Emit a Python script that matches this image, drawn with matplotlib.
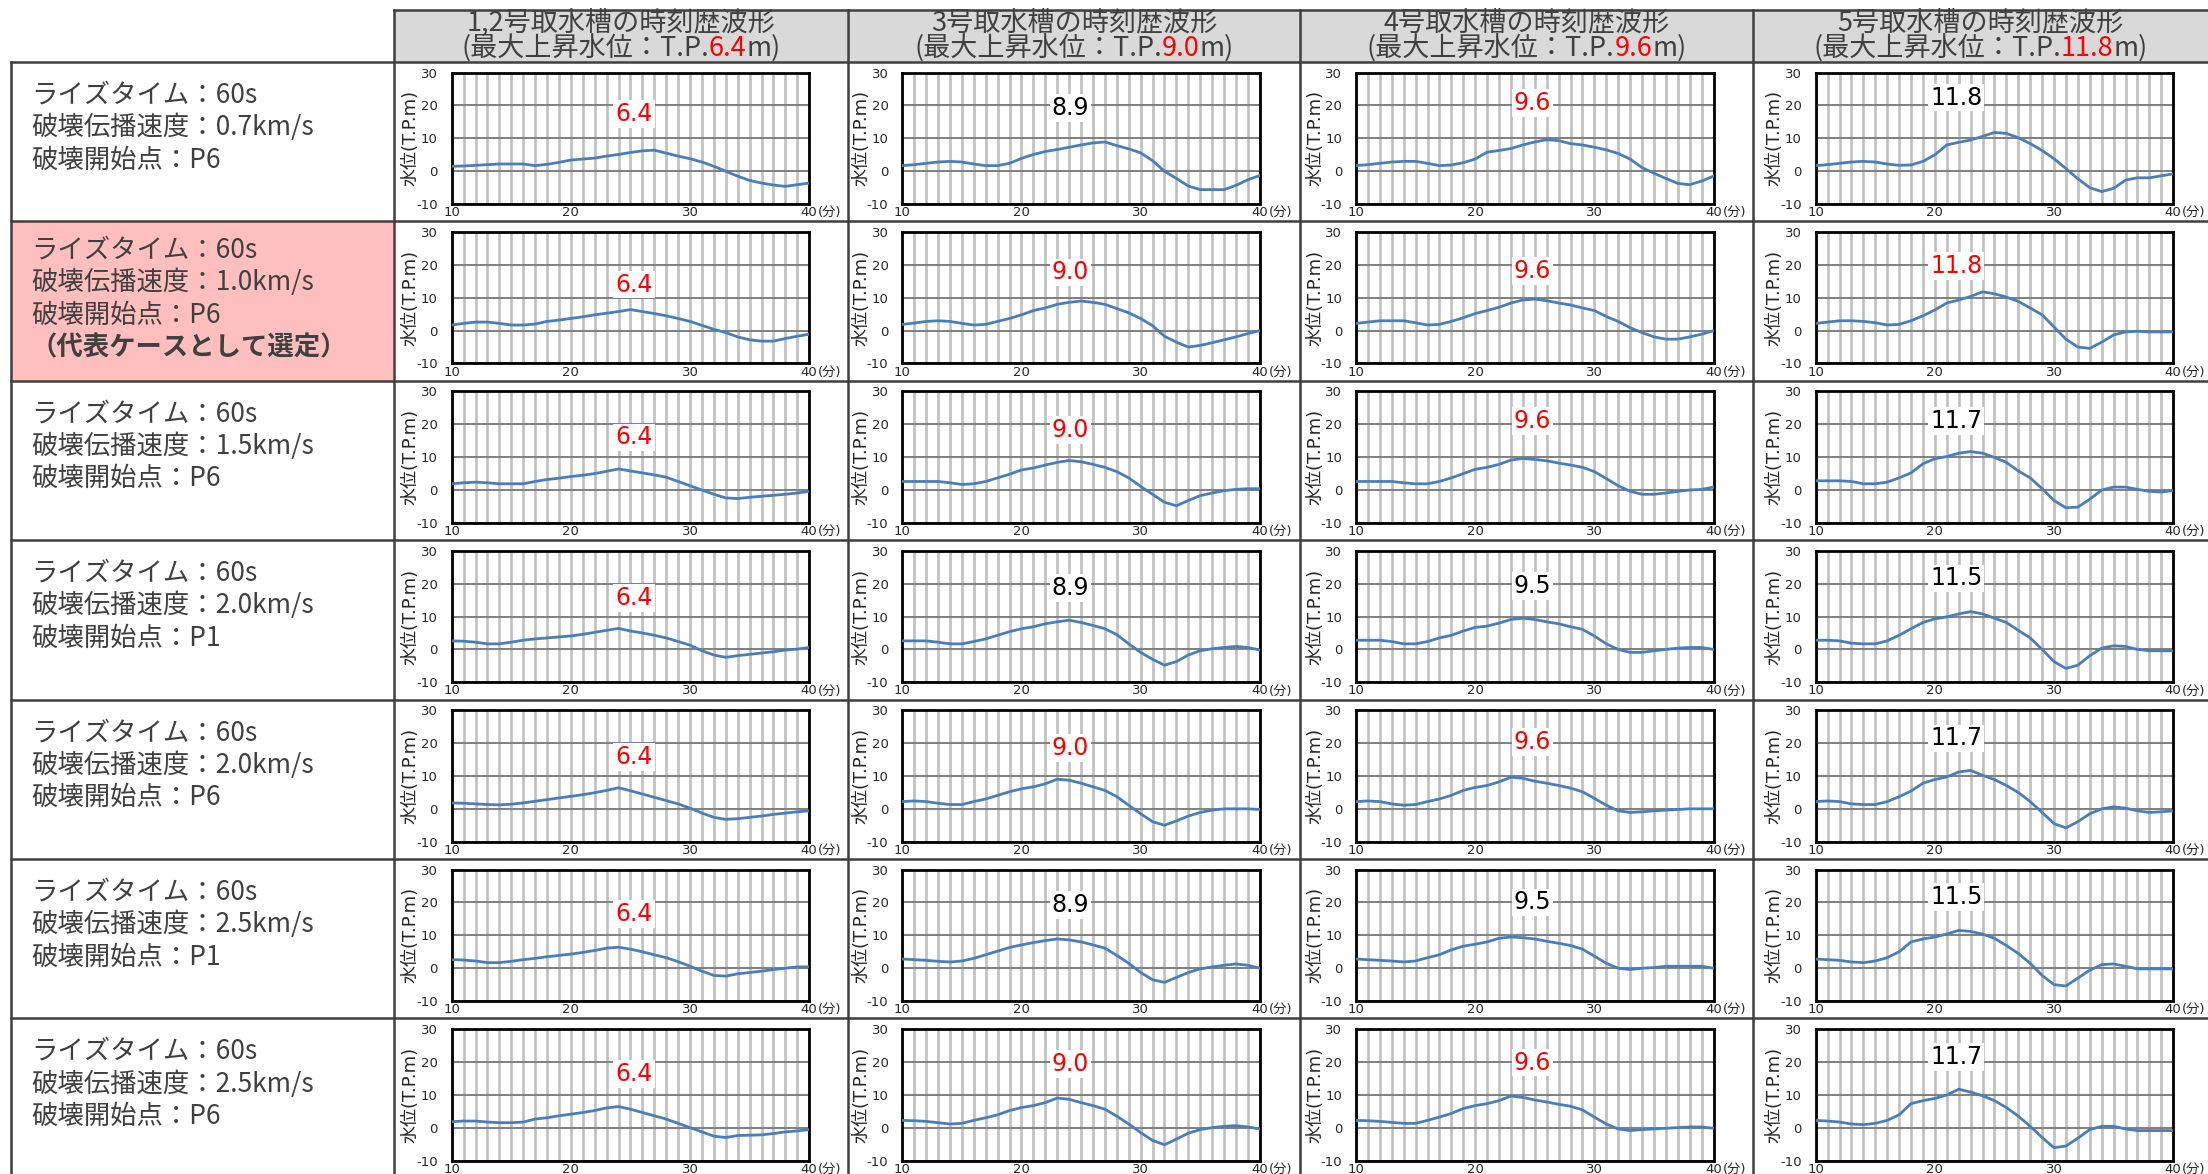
import matplotlib
matplotlib.use('Agg')
import matplotlib.pyplot as plt
from matplotlib.patches import Rectangle

plt.rcParams['font.family'] = ['DejaVu Sans', 'Noto Sans CJK JP']
plt.rcParams['axes.unicode_minus'] = False
JP = ['Noto Sans CJK JP', 'DejaVu Sans']

# ---------------- data ----------------
TIME = list(range(10, 41))  # minutes

TANK_NAMES = ['1,2号取水槽', '3号取水槽', '4号取水槽', '5号取水槽']
TANK_MAX = ['6.4', '9.0', '9.6', '11.8']

RISE_TIME = ['60s', '60s', '60s', '60s', '60s', '60s', '60s']
RUPTURE_SPEED = ['0.7', '1.0', '1.5', '2.0', '2.0', '2.5', '2.5']
RUPTURE_START = ['P6', 'P6', 'P6', 'P1', 'P6', 'P1', 'P6']
SELECTED_ROW = 1
SELECTED_NOTE = '（代表ケースとして選定）'

PEAK_12 = ['6.4', '6.4', '6.4', '6.4', '6.4', '6.4', '6.4']
PEAK_3 = ['8.9', '9.0', '9.0', '8.9', '9.0', '8.9', '9.0']
PEAK_4 = ['9.6', '9.6', '9.6', '9.5', '9.6', '9.5', '9.6']
PEAK_5 = ['11.8', '11.8', '11.7', '11.5', '11.7', '11.5', '11.7']

RED_12 = [True, True, True, True, True, True, True]
RED_3 = [False, True, True, False, True, False, True]
RED_4 = [True, True, True, False, True, False, True]
RED_5 = [False, True, False, False, False, False, False]

WL_12 = [
    [1.5, 1.6, 1.8, 2.0, 2.2, 2.2, 2.2, 1.7, 2.1, 2.7, 3.4, 3.7, 4.0, 4.6, 5.1, 5.7, 6.2, 6.4, 5.5, 4.6, 3.8, 2.8, 1.5, 0.0, -1.5, -2.8, -3.6, -4.2, -4.6, -4.1, -3.6],
    [1.7, 2.2, 2.6, 2.6, 2.2, 1.7, 1.7, 2.0, 2.8, 3.2, 3.7, 4.2, 4.8, 5.3, 5.8, 6.4, 5.8, 5.2, 4.5, 3.7, 2.8, 1.6, 0.4, -0.6, -1.9, -2.8, -3.2, -3.2, -2.4, -1.7, -1.1],
    [1.9, 2.2, 2.4, 2.2, 1.9, 1.9, 1.9, 2.6, 3.2, 3.6, 4.1, 4.5, 5.0, 5.7, 6.4, 5.8, 5.2, 4.6, 3.9, 2.6, 1.3, 0.0, -1.3, -2.4, -2.6, -2.2, -1.9, -1.6, -1.3, -0.9, -0.4],
    [2.6, 2.5, 2.2, 1.7, 1.7, 2.2, 2.8, 3.2, 3.5, 3.8, 4.1, 4.6, 5.2, 5.8, 6.4, 5.6, 5.0, 4.3, 3.5, 2.4, 1.3, -0.4, -1.7, -2.4, -1.9, -1.5, -1.1, -0.7, -0.2, 0.1, 0.6],
    [1.8, 1.7, 1.5, 1.3, 1.2, 1.4, 1.8, 2.3, 2.8, 3.3, 3.8, 4.3, 4.9, 5.6, 6.4, 5.5, 4.5, 3.5, 2.5, 1.5, 0.2, -1.3, -2.6, -3.2, -3.0, -2.6, -2.2, -1.7, -1.3, -0.9, -0.6],
    [2.6, 2.5, 2.2, 1.7, 1.7, 2.1, 2.6, 3.0, 3.5, 3.9, 4.3, 4.8, 5.4, 6.1, 6.4, 5.8, 5.0, 4.1, 3.2, 2.0, 0.6, -0.9, -2.2, -2.4, -1.7, -1.3, -0.9, -0.4, 0.0, 0.4, 0.4],
    [1.8, 2.0, 2.0, 1.7, 1.5, 1.5, 1.7, 2.6, 3.0, 3.6, 4.1, 4.6, 5.2, 6.0, 6.4, 5.6, 4.6, 3.6, 2.6, 1.3, 0.0, -1.3, -2.6, -3.0, -2.4, -2.3, -2.2, -1.8, -1.3, -1.0, -0.6],
]
WL_3 = [
    [1.7, 2.0, 2.4, 2.8, 3.0, 2.8, 2.2, 1.7, 1.7, 2.4, 3.9, 5.1, 6.0, 6.6, 7.3, 8.0, 8.6, 8.9, 7.8, 6.8, 5.6, 3.2, 0.0, -2.2, -4.5, -5.6, -5.6, -5.6, -4.3, -2.6, -1.3],
    [1.9, 2.3, 2.8, 3.0, 2.8, 2.2, 1.7, 1.9, 2.8, 3.7, 4.8, 6.1, 6.9, 8.0, 8.6, 9.0, 8.6, 8.0, 6.7, 5.4, 3.7, 1.5, -1.7, -3.5, -5.0, -4.5, -3.7, -2.8, -1.9, -0.9, 0.0],
    [2.6, 2.6, 2.6, 2.6, 2.2, 1.7, 1.9, 2.6, 3.7, 4.8, 6.1, 6.7, 7.6, 8.4, 9.0, 8.6, 7.8, 6.9, 5.6, 3.7, 1.1, -1.3, -3.7, -4.8, -3.2, -1.7, -0.9, -0.2, 0.2, 0.4, 0.4],
    [2.6, 2.6, 2.6, 2.2, 1.7, 1.7, 2.4, 3.2, 4.3, 5.4, 6.3, 6.9, 7.8, 8.4, 8.9, 8.2, 7.3, 6.3, 4.5, 1.7, -0.9, -3.0, -4.8, -3.7, -1.7, -0.4, 0.2, 0.6, 0.9, 0.6, -0.2],
    [2.2, 2.4, 2.2, 1.7, 1.3, 1.3, 2.2, 3.0, 4.1, 5.2, 6.1, 6.7, 7.6, 9.0, 8.7, 7.8, 6.7, 5.6, 3.7, 1.1, -1.5, -3.9, -5.0, -3.7, -2.2, -1.1, -0.4, 0.0, 0.0, 0.0, -0.2],
    [2.8, 2.6, 2.4, 2.1, 1.9, 2.2, 3.0, 4.1, 5.2, 6.3, 7.1, 7.8, 8.4, 8.9, 8.6, 8.0, 7.1, 6.1, 3.9, 1.5, -1.3, -3.5, -4.3, -2.8, -1.3, -0.2, 0.4, 0.9, 1.3, 0.9, 0.0],
    [2.2, 2.1, 1.9, 1.5, 1.1, 1.3, 2.2, 3.0, 3.9, 5.2, 6.1, 6.7, 7.6, 9.0, 8.6, 7.6, 6.7, 5.6, 3.5, 1.1, -1.5, -3.9, -5.2, -3.5, -1.7, -0.6, 0.0, 0.4, 0.6, 0.2, -0.4],
]
WL_4 = [
    [1.7, 2.0, 2.4, 2.8, 3.0, 3.0, 2.4, 1.7, 1.9, 2.6, 3.7, 5.8, 6.3, 6.9, 8.0, 8.9, 9.6, 9.3, 8.4, 8.0, 7.3, 6.5, 5.4, 3.7, 1.1, -0.6, -2.2, -3.7, -4.1, -3.0, -1.5],
    [2.2, 2.6, 3.0, 3.0, 3.0, 2.4, 1.7, 1.9, 2.8, 3.9, 5.2, 6.1, 7.1, 8.4, 9.3, 9.6, 9.1, 8.4, 7.8, 6.9, 6.1, 4.3, 2.8, 0.9, -0.6, -1.9, -2.6, -2.6, -1.9, -1.1, 0.0],
    [2.6, 2.6, 2.6, 2.6, 2.2, 1.9, 1.9, 2.6, 3.7, 5.0, 6.3, 6.9, 7.8, 9.1, 9.6, 9.3, 8.9, 8.2, 7.6, 6.9, 5.6, 3.5, 1.3, -0.4, -1.3, -1.3, -0.9, -0.4, 0.0, 0.2, 0.9],
    [2.8, 2.8, 2.8, 2.4, 1.7, 1.7, 2.4, 3.5, 4.3, 5.6, 6.7, 7.1, 8.0, 9.1, 9.5, 9.1, 8.4, 7.8, 6.9, 6.1, 4.1, 1.7, 0.0, -0.9, -0.9, -0.4, 0.0, 0.4, 0.6, 0.6, 0.0],
    [2.2, 2.4, 2.2, 1.5, 1.1, 1.3, 2.2, 3.0, 4.1, 5.6, 6.5, 7.1, 8.2, 9.6, 9.3, 8.4, 7.8, 7.1, 6.3, 5.2, 3.2, 1.1, -0.6, -1.1, -0.9, -0.6, -0.4, -0.2, 0.0, 0.0, 0.0],
    [2.8, 2.6, 2.4, 2.2, 1.9, 2.2, 3.2, 4.1, 5.6, 6.7, 7.3, 8.0, 9.1, 9.5, 9.3, 8.9, 8.2, 7.6, 6.9, 5.8, 3.7, 1.5, 0.0, -0.4, 0.0, 0.2, 0.6, 0.6, 0.6, 0.6, 0.0],
    [2.2, 2.1, 1.9, 1.6, 1.3, 1.3, 2.2, 3.2, 4.3, 5.8, 6.7, 7.3, 8.2, 9.6, 9.2, 8.4, 7.8, 7.1, 6.5, 5.4, 3.2, 1.1, -0.4, -0.9, -0.6, -0.4, -0.2, 0.0, 0.2, 0.2, -0.2],
]
WL_5 = [
    [1.7, 2.0, 2.4, 2.8, 3.0, 2.8, 2.2, 1.8, 1.9, 3.0, 5.0, 8.0, 8.8, 9.5, 10.6, 11.8, 11.5, 10.2, 8.4, 6.3, 3.8, 0.8, -2.3, -5.0, -6.2, -5.2, -2.7, -2.0, -2.0, -1.4, -0.8],
    [2.2, 2.6, 3.0, 3.0, 2.8, 2.4, 1.7, 1.9, 3.0, 4.5, 6.3, 8.4, 9.3, 10.4, 11.8, 11.2, 10.2, 8.9, 6.9, 4.8, 1.1, -2.6, -5.0, -5.4, -3.5, -1.3, -0.4, -0.2, -0.4, -0.4, -0.4],
    [2.8, 2.8, 2.8, 2.6, 1.9, 1.9, 2.4, 3.7, 5.2, 8.0, 9.5, 10.2, 11.2, 11.7, 11.2, 9.9, 8.4, 5.8, 3.7, 0.4, -3.2, -5.4, -5.2, -2.8, 0.0, 0.9, 0.9, 0.2, -0.4, -0.6, -0.2],
    [2.8, 2.8, 2.6, 1.9, 1.7, 1.7, 2.6, 4.3, 6.3, 8.2, 9.3, 9.9, 10.8, 11.5, 10.8, 9.5, 8.2, 5.8, 3.5, 0.0, -3.7, -5.8, -4.8, -1.9, 0.4, 1.1, 0.9, 0.0, -0.4, -0.4, -0.4],
    [2.2, 2.4, 2.2, 1.5, 1.3, 1.3, 2.2, 3.7, 5.4, 7.8, 8.9, 9.7, 11.2, 11.7, 10.2, 8.9, 7.1, 5.0, 2.2, -1.1, -4.5, -5.8, -3.9, -1.5, 0.0, 0.6, 0.2, -0.6, -1.1, -0.9, -0.6],
    [2.8, 2.6, 2.4, 1.9, 1.7, 2.2, 3.2, 5.0, 8.0, 8.9, 9.5, 10.4, 11.5, 11.2, 10.4, 9.1, 6.9, 4.5, 1.5, -2.2, -5.0, -5.4, -3.0, -0.6, 1.1, 1.3, 0.6, -0.2, -0.2, -0.2, -0.2],
    [2.2, 2.0, 1.7, 1.1, 0.9, 1.3, 2.2, 3.9, 7.3, 8.2, 8.9, 9.9, 11.7, 10.8, 9.7, 8.2, 6.1, 3.5, 0.4, -3.0, -6.1, -5.6, -3.2, -0.6, 0.4, 0.4, -0.4, -0.9, -0.9, -0.9, -0.9],
]

WAVES = [WL_12, WL_3, WL_4, WL_5]
PEAKS = [PEAK_12, PEAK_3, PEAK_4, PEAK_5]
REDS = [RED_12, RED_3, RED_4, RED_5]

# ---------------- layout (pixels) ----------------
W, H = 2208, 1174
ROW_TOP0, ROW_H = 62.0, 159.4
HEAD_TOP = 10.0
LEFT_EDGE = 11.0
COL_EDGES = [394, 848, 1300, 1753, 2208]
AX_LEFT = [451.7, 902.3, 1356.0, 1815.7]
AX_W = 357.5
AX_TOP_OFF, AX_H = 10.6, 131.5
LABEL_X = [25.3, 24.1, 24.8, 21.8]
LABEL_Y = [[17.5, 14.0, 16.0, 15.7, 15.7, 16.4, 16.4],
           [19.2, 17.7, 18.3, 18.8, 18.5, 19.2, 19.4],
           [20.7, 18.1, 20.9, 19.2, 20.3, 20.0, 19.8],
           [22.4, 19.6, 21.1, 21.6, 21.4, 21.6, 21.4]]
BORDER = '#3f3f3f'
TXT = '#404040'
TICK_FS = 9.5

fig = plt.figure(figsize=(W / 100, H / 100), dpi=100)
bg = fig.add_axes([0, 0, 1, 1], zorder=0)
bg.set_xlim(0, W)
bg.set_ylim(H, 0)
bg.axis('off')

# header background
bg.add_patch(Rectangle((COL_EDGES[0], HEAD_TOP), W - COL_EDGES[0] + 5, ROW_TOP0 - HEAD_TOP,
                       facecolor='#d9d9d9', edgecolor='none', zorder=0))
# selected row background
bg.add_patch(Rectangle((LEFT_EDGE, ROW_TOP0 + SELECTED_ROW * ROW_H), COL_EDGES[0] - LEFT_EDGE, ROW_H,
                       facecolor='#ffbfbf', edgecolor='none', zorder=0))
# table lines
bg.plot([COL_EDGES[0], W], [HEAD_TOP, HEAD_TOP], color=BORDER, lw=1.8, zorder=1)
for i in range(8):
    y = ROW_TOP0 + i * ROW_H
    bg.plot([LEFT_EDGE, W], [y, y], color=BORDER, lw=1.8, zorder=1)
bg.plot([LEFT_EDGE, LEFT_EDGE], [ROW_TOP0, H], color=BORDER, lw=1.8, zorder=1)
for x in COL_EDGES[:-1]:
    bg.plot([x, x], [HEAD_TOP, H], color=BORDER, lw=1.8, zorder=1)

# header texts
renderer = fig.canvas.get_renderer()
HFS = 19.5
for c in range(4):
    cx = (COL_EDGES[c] + COL_EDGES[c + 1]) / 2
    bg.text(cx, 22.5, TANK_NAMES[c] + 'の時刻歴波形', ha='center', va='center',
            fontsize=HFS, family=JP, color=TXT, zorder=2)
    parts = [('(最大上昇水位：T.P.', TXT), (TANK_MAX[c], '#ff0000'), ('m)', TXT)]
    objs = []
    total = 0.0
    for s, col in parts:
        t = bg.text(0, 48.5, s, ha='left', va='center', fontsize=HFS, family=JP, color=col, zorder=2)
        w = t.get_window_extent(renderer).width
        objs.append((t, w))
        total += w
    x = cx - total / 2
    for t, w in objs:
        t.set_x(x)
        x += w

# row label texts
LFS = 19
for r in range(7):
    top = ROW_TOP0 + r * ROW_H
    lines = ['ライズタイム：' + RISE_TIME[r],
             '破壊伝播速度：' + RUPTURE_SPEED[r] + 'km/s',
             '破壊開始点：' + RUPTURE_START[r]]
    offs = [29, 61, 94] if r == SELECTED_ROW else [33, 65.5, 98]
    for s, o in zip(lines, offs):
        bg.text(31, top + o, s, ha='left', va='center', fontsize=LFS, family=JP, color=TXT, zorder=2)
    if r == SELECTED_ROW:
        bg.text(31, top + 126, SELECTED_NOTE, ha='left', va='center', fontsize=LFS,
                family=JP, fontweight='bold', color=TXT, zorder=2)

# charts
for c in range(4):
    for r in range(7):
        top = ROW_TOP0 + r * ROW_H + AX_TOP_OFF
        ax = fig.add_axes([AX_LEFT[c] / W, 1 - (top + AX_H) / H, AX_W / W, AX_H / H], zorder=2)
        ax.set_facecolor('white')
        ax.set_xlim(10, 40)
        ax.set_ylim(-10, 30)
        ax.set_xticks([10, 20, 30, 40])
        ax.set_xticks(range(10, 41), minor=True)
        ax.set_yticks([-10, 0, 10, 20, 30])
        ax.grid(which='both', axis='x', color='#bfbfbf', lw=1.9)
        ax.grid(which='major', axis='y', color='#7f7f7f', lw=1.4)
        ax.tick_params(which='both', length=0)
        ax.tick_params(axis='y', pad=10, labelsize=TICK_FS, labelcolor='#262626')
        ax.tick_params(axis='x', pad=1.5, labelsize=TICK_FS, labelcolor='#262626')
        for sp in ax.spines.values():
            sp.set_linewidth(2.0)
            sp.set_color('black')
        ax.plot(TIME, WAVES[c][r], color='#4a7ebb', lw=2.0, zorder=3)
        ax.text(LABEL_X[c], LABEL_Y[c][r], PEAKS[c][r], ha='center', va='center', fontsize=17,
                color='#ff0000' if REDS[c][r] else 'black', zorder=4,
                bbox=dict(boxstyle='square,pad=0.08', facecolor='white', edgecolor='none'))
        ax.annotate('(分)', xy=(1, 0), xycoords='axes fraction', xytext=(6.5, -1.5),
                    textcoords='offset points', ha='left', va='top', fontsize=TICK_FS, color='#262626')
        ax.text(-41.0 / AX_W, 0.5, '水位(T.P.m)', rotation=90, ha='center', va='center',
                transform=ax.transAxes, fontsize=13, color='#262626')

fig.savefig('out.png', dpi=100)
